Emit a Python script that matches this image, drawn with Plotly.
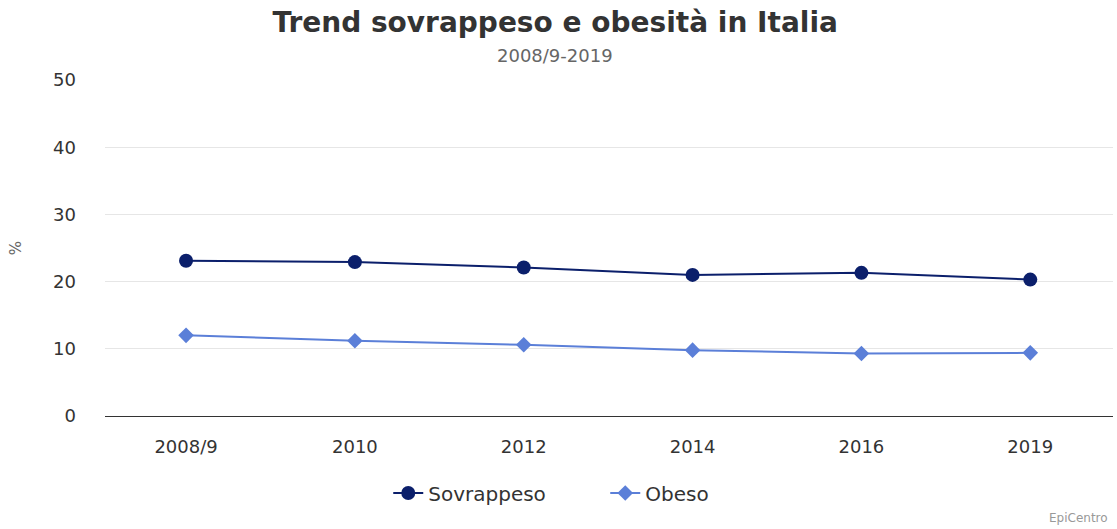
import plotly.graph_objects as go

categories = ["2008/9", "2010", "2012", "2014", "2016", "2019"]
sovrappeso = [23.1, 22.9, 22.1, 21.0, 21.3, 20.3]
obeso = [12.0, 11.2, 10.6, 9.8, 9.3, 9.4]
y_ticks = [0, 10, 20, 30, 40, 50]

FONT = "DejaVu Sans, Liberation Sans, Arial, sans-serif"

fig = go.Figure()
fig.add_trace(go.Scatter(
    x=categories, y=sovrappeso, name="Sovrappeso", mode="lines+markers",
    line=dict(color="#0b1f6b", width=2),
    marker=dict(symbol="circle", size=14, color="#0b1f6b"),
))
fig.add_trace(go.Scatter(
    x=categories, y=obeso, name="Obeso", mode="lines+markers",
    line=dict(color="#5b7fd8", width=2),
    marker=dict(symbol="diamond", size=12, color="#5b7fd8"),
))

fig.update_layout(
    width=1117, height=529,
    margin=dict(l=105, r=4, t=80, b=113),
    paper_bgcolor="white", plot_bgcolor="white",
    font=dict(family=FONT, color="#333333"),
    title=dict(
        text="<b>Trend sovrappeso e obesità in Italia</b>",
        x=0.497, xref="container", xanchor="center", y=1 - 22 / 529, yanchor="middle",
        font=dict(size=28, color="#333333", family=FONT),
    ),
    annotations=[
        dict(text="2008/9-2019", x=0.446, xref="paper", y=1.074, yref="paper",
             yanchor="middle", showarrow=False,
             font=dict(size=18, color="#666666")),
        dict(text="EpiCentro", x=0.997, xref="paper", y=-0.304, yref="paper",
             xanchor="right", yanchor="middle", showarrow=False,
             font=dict(size=12, color="#999999")),
    ],
    xaxis=dict(
        type="category", range=[-0.48, 5.49], showgrid=False, showline=False,
        zeroline=False, tickfont=dict(size=18, color="#333333"), ticks="",
        ticklabelstandoff=18,
    ),
    yaxis=dict(
        range=[0, 50], tickvals=y_ticks, showgrid=True, gridcolor="#e6e6e6",
        gridwidth=1, zeroline=True, zerolinecolor="#333333", zerolinewidth=1,
        tickfont=dict(size=18, color="#333333"), ticks="",
        title=dict(text="%", font=dict(size=15, color="#666666"), standoff=27),
        ticklabelstandoff=28,
    ),
    legend=dict(
        orientation="h", x=0.281, xanchor="left", y=-0.229, yanchor="middle",
        font=dict(size=20, color="#333333"), itemwidth=30,
        entrywidth=172, entrywidthmode="pixels",
    ),
    showlegend=True,
)

fig.write_html("out.html", config={"displayModeBar": False},
               post_script="document.body.style.margin='0';")
